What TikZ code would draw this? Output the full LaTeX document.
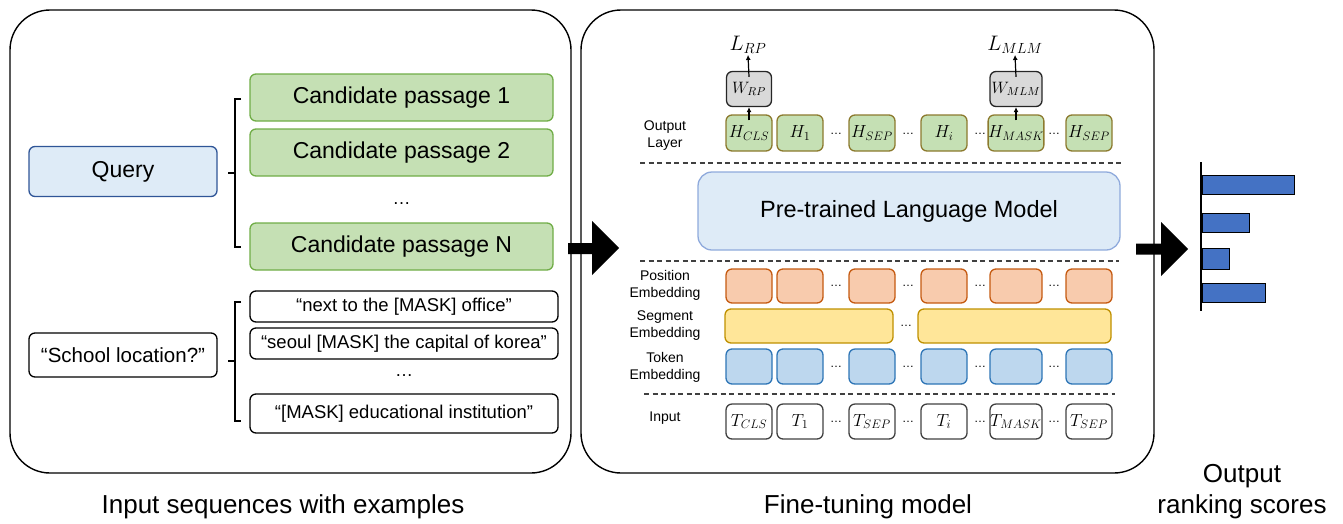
\RequirePackage{fix-cm}
\documentclass[tikz,border=0pt]{standalone}
\usepackage{fontspec}
\setmainfont{Liberation Sans}
\usepackage{amsmath}
\usetikzlibrary{calc, arrows.meta}

\definecolor{qfill}{HTML}{DEEBF7}
\definecolor{qline}{HTML}{2F5597}
\definecolor{pfill}{HTML}{C5E0B4}
\definecolor{pline}{HTML}{70AD47}
\definecolor{hline}{HTML}{8C7A2E}
\definecolor{posfill}{HTML}{F8CBAD}
\definecolor{posline}{HTML}{C55A11}
\definecolor{segfill}{HTML}{FFE699}
\definecolor{segline}{HTML}{BF9000}
\definecolor{tokfill}{HTML}{BDD7EE}
\definecolor{tokline}{HTML}{2E75B6}
\definecolor{wfill}{HTML}{D9D9D9}
\definecolor{lmline}{HTML}{8FAADC}
\definecolor{barfill}{HTML}{4472C4}

\begin{document}
\begin{tikzpicture}[x=1pt, y=-1pt,
    panel/.style={draw, line width=1.4, rounded corners=40, minimum height=463, inner sep=0},
    box/.style={draw, line width=1.3, rounded corners=6, inner sep=0},
    query/.style={box, fill=qfill, draw=qline, minimum width=188, minimum height=50, font=\fontsize{23}{27}\selectfont},
    passage/.style={box, fill=pfill, draw=pline, minimum width=303, minimum height=47, font=\fontsize{23}{27}\selectfont},
    example/.style={box, minimum width=308, font=\fontsize{18.5}{22}\selectfont},
    hbox/.style={box, fill=pfill, draw=hline, minimum height=36, font=\fontsize{17.5}{20}\selectfont},
    posbox/.style={box, fill=posfill, draw=posline, minimum height=34},
    segbox/.style={box, fill=segfill, draw=segline, minimum height=34},
    tokbox/.style={box, fill=tokfill, draw=tokline, minimum height=35},
    inbox/.style={box, draw=black!75, minimum height=35, font=\fontsize{17.5}{20}\selectfont},
    wbox/.style={box, fill=wfill, draw=black!85, minimum height=35, font=\fontsize{16.5}{18}\selectfont},
    loss/.style={inner sep=1, font=\fontsize{21}{24}\selectfont},
    rowlabel/.style={align=center, font=\fontsize{14}{17}\selectfont},
    caption/.style={align=center, font=\fontsize{26}{31}\selectfont},
    dots/.style={inner sep=0, font=\fontsize{12}{12}\selectfont},
    arr/.style={-{Latex[length=5, width=5]}, line width=1.2},
    sep/.style={dash pattern=on 5 off 3.5, line width=1.2, black!75},
    bar/.style={draw, fill=barfill, line width=1}]

    \useasboundingbox (0,0) rectangle (1343,523);

    % Input sequences
    \node[panel, minimum width=561] (inpanel) at (290.5,241.5) {};
    \node[query] (query) at (123,171.5) {Query};
    \node[passage] (cand1) at (401.5,97.5) {Candidate passage 1};
    \node[passage] (cand2) at (401.5,152.5) {Candidate passage 2};
    \node[dots, font=\fontsize{18}{18}\selectfont] (canddots) at (401.5,204) {\dots};
    \node[passage] (candN) at (401.5,246.5) {Candidate passage N};
    \draw[line width=1.3] (241,99) -- (235,99) -- (235,247) -- (241,247) (228,173) -- (235,173);

    \node[box, minimum width=188, minimum height=44, font=\fontsize{20.5}{24}\selectfont] (school) at (123,355) {“School location?”};
    \node[example, minimum height=31] (ex1) at (404,306.5) {“next to the [MASK] office”};
    \node[example, minimum height=31] (ex2) at (404,343.5) {“seoul [MASK] the capital of korea”};
    \node[dots, font=\fontsize{18}{18}\selectfont] (exdots) at (404,376) {\dots};
    \node[example, minimum height=39] (ex3) at (404,413.5) {“[MASK] educational institution”};
    \draw[line width=1.3] (241,302) -- (235,302) -- (235,421) -- (241,421) (228,361) -- (235,361);

    \node[caption] (incap) at (283,507) {Input sequences with examples};

    % Fine-tuning model
    \node[panel, minimum width=573] (ftpanel) at (867.5,241.5) {};

    \node[rowlabel] (outlbl) at (665,136) {Output\\Layer};
    \node[rowlabel] (poslbl) at (665,285) {Position\\Embedding};
    \node[rowlabel] (seglbl) at (665,326) {Segment\\Embedding};
    \node[rowlabel] (toklbl) at (665,367) {Token\\Embedding};
    \node[rowlabel] (inlbl) at (665,418) {Input};

    \foreach \x/\w/\s [count=\i] in {749/46/CLS, 800/46/1, 872/46/SEP, 944/46/i, 1016/52/MASK, 1089/46/SEP} {
        \node[hbox, minimum width=\w] (h\i) at (\x,133) {$H_{\s}$};
        \node[posbox, minimum width=\w] (pos\i) at (\x,286) {};
        \node[tokbox, minimum width=\w] (tok\i) at (\x,366.5) {};
        \node[inbox, minimum width=\w] (in\i) at (\x,421.5) {$T_{\s}$};
    }
    \foreach \x in {836,908,980,1054} {
        \node[dots] (hdots\x) at (\x,134) {\dots};
        \node[dots] (posdots\x) at (\x,286) {\dots};
        \node[dots] (tokdots\x) at (\x,367) {\dots};
        \node[dots] (indots\x) at (\x,422) {\dots};
    }
    \node[segbox, minimum width=168] (segA) at (809,326) {};
    \node[dots] (segdots) at (906,326) {\dots};
    \node[segbox, minimum width=193] (segB) at (1014.5,326) {};

    \node[wbox, minimum width=45] (wrp) at (749,89) {$W_{RP}$};
    \node[wbox, minimum width=52] (wmlm) at (1016,89) {$W_{MLM}$};
    \node[loss] (lrp) at (748,45) {$L_{RP}$};
    \node[loss] (lmlm) at (1015,45) {$L_{MLM}$};
    \draw[arr] ($(h1.north)+(0,6)$) -- (wrp.south);
    \draw[arr] ($(wrp.north)+(0,6)$) -- (lrp.south);
    \draw[arr] ($(h5.north)+(0,6)$) -- (wmlm.south);
    \draw[arr] ($(wmlm.north)+(0,6)$) -- (lmlm.south);

    \draw[sep] (640,163) -- (1123,163);
    \node[box, fill=qfill, draw=lmline, rounded corners=14, minimum width=422, minimum height=78, font=\fontsize{23.5}{28}\selectfont] (plm) at (909,211) {Pre-trained Language Model};
    \draw[sep] (640,261) -- (1119,261);
    \draw[sep] (644,394) -- (1115,394);

    \node[caption] (ftcap) at (868,507) {Fine-tuning model};

    % big arrows
    \fill (568,243) -- (592,243) -- (592,221) -- (619,248) -- (592,275) -- (592,254) -- (568,254) -- cycle;
    \fill (1136,243.5) -- (1161,243.5) -- (1161,222) -- (1188,249) -- (1161,276) -- (1161,254.5) -- (1136,254.5) -- cycle;

    % ranking scores
    \draw[line width=1.2] (1201,162) -- (1201,311);
    \draw[bar] (1202,175) rectangle (1294,194);
    \draw[bar] (1202,213) rectangle (1249,232);
    \draw[bar] (1202,248) rectangle (1229,269);
    \draw[bar] (1202,283) rectangle (1265,302);
    \node[caption] (outcap) at (1242,492) {Output\\ranking scores};
\end{tikzpicture}
\end{document}
